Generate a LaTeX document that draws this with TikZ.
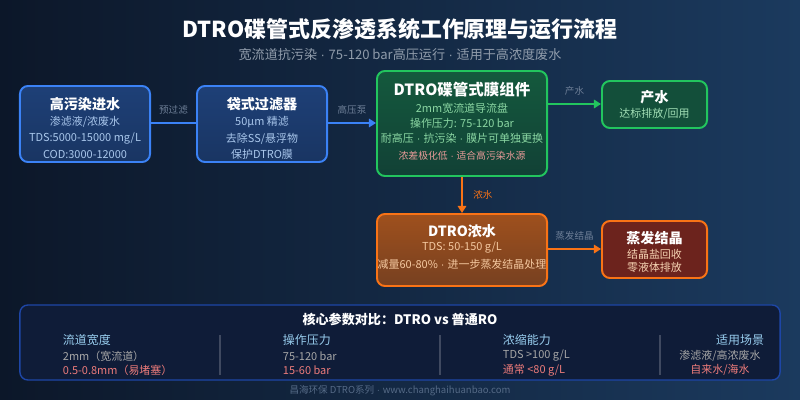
\documentclass[tikz,border=0pt]{standalone}
\usepackage{fontspec}
\setmainfont{Noto Sans CJK SC}
\newfontfamily\latinfont{Liberation Sans}
\newcommand\mdot{{\latinfont\ ·\ }}
\usetikzlibrary{arrows.meta,positioning,calc}

\definecolor{bgA}{HTML}{0C1729}
\definecolor{bgB}{HTML}{1B3A5E}
\definecolor{blueB}{HTML}{3B82F6}
\definecolor{blueT}{HTML}{A9C7EC}
\definecolor{greenB}{HTML}{22C55E}
\definecolor{greenT}{HTML}{8AD6A2}
\definecolor{orangeB}{HTML}{F97316}
\definecolor{orangeT}{HTML}{F4C8A0}
\definecolor{pinkT}{HTML}{E79A98}
\definecolor{grayT}{HTML}{6E7F97}
\definecolor{panelF}{HTML}{0F1C38}
\definecolor{panelB}{HTML}{1E46A6}

\tikzset{
  box/.style={draw,line width=1.4pt,rounded corners=0.2cm,inner sep=0pt},
  ttl/.style={text=white,font=\bfseries\fontsize{10}{12}\selectfont},
  txt/.style={font=\fontsize{7.8}{9}\selectfont},
  lbl/.style={text=grayT,font=\fontsize{6.8}{8}\selectfont},
  flow/.style={line width=1.4pt,-{Triangle[length=5pt,width=6pt]}}
}

\begin{document}
\begin{tikzpicture}[x=0.025cm,y=-0.025cm]
  % background
  \shade[left color=bgA,right color=bgB] (0,0) rectangle (800,400);
  \useasboundingbox (0,0) rectangle (800,400);

  \node (title) at (400,29) {\textcolor{white}{\bfseries\fontsize{15.6}{18}\selectfont DTRO碟管式反渗透系统工作原理与运行流程}};
  \node (sub) at (400,55) {\textcolor{gray!60!blueT}{\fontsize{9.3}{11}\selectfont 宽流道抗污染\mdot 75-120 bar高压运行\mdot 适用于高浓度废水}};

  % boxes
  \node[box,draw=blueB,top color=blueB!38!bgA,bottom color=blueB!28!bgA,minimum width=3.25cm,minimum height=1.9cm] (feed) at (85,124) {};
  \node[box,draw=blueB,top color=blueB!38!bgA,bottom color=blueB!28!bgA,minimum width=3.25cm,minimum height=1.9cm] (filter) at (262,124) {};
  \node[box,draw=greenB,top color=greenB!38!bgA,bottom color=greenB!24!bgA,minimum width=4.25cm,minimum height=2.625cm] (dtro) at (462,123.5) {};
  \node[box,draw=greenB,fill=greenB!32!bgA,minimum width=2.625cm,minimum height=1.175cm] (prod) at (654.5,104.5) {};
  \node[box,draw=orangeB,top color=orangeB!62!bgA,bottom color=orangeB!45!bgA,minimum width=4.25cm,minimum height=1.8cm] (conc) at (462,250) {};
  \node[box,draw=orangeB,fill=orangeB!45!red!40!bgA,minimum width=2.625cm,minimum height=1.425cm] (evap) at (654.5,249.5) {};

  % box texts
  \node[ttl] (feedT) at (85,104) {高污染进水};
  \node[txt,text=blueT] (feed1) at (85,122) {渗滤液/浓废水};
  \node[txt,text=blueT] (feed2) at (85,139) {TDS:5000-15000 mg/L};
  \node[txt,text=blueT] (feed3) at (85,154) {COD:3000-12000};

  \node[ttl] (filterT) at (262,104) {袋式过滤器};
  \node[txt,text=blueT] (filter1) at (262,122) {50μm 精滤};
  \node[txt,text=blueT] (filter2) at (262,139) {去除SS/悬浮物};
  \node[txt,text=blueT] (filter3) at (262,154) {保护DTRO膜};

  \node[ttl,font=\bfseries\fontsize{11}{13}\selectfont] (dtroT) at (462,90) {DTRO碟管式膜组件};
  \node[txt,text=greenT] (dtro1) at (462,108) {2mm宽流道导流盘};
  \node[txt,text=greenT] (dtro2) at (462,123) {操作压力: 75-120 bar};
  \node[txt,text=greenT] (dtro3) at (462,138) {耐高压\mdot 抗污染\mdot 膜片可单独更换};
  \node[txt,text=pinkT,font=\fontsize{7}{8}\selectfont] (dtro4) at (462,156) {浓差极化低\mdot 适合高污染水源};

  \node[ttl] (prodT) at (654.5,97) {产水};
  \node[txt,text=greenT!80!white] (prod1) at (654.5,114) {达标排放/回用};

  \node[ttl] (concT) at (462,231) {DTRO浓水};
  \node[txt,text=orangeT] (conc1) at (462,248) {TDS: 50-150 g/L};
  \node[txt,text=orangeT] (conc2) at (462,264) {减量60-80\%\mdot 进一步蒸发结晶处理};

  \node[ttl] (evapT) at (654.5,238) {蒸发结晶};
  \node[txt,text=orangeT!80!white] (evap1) at (654.5,254) {结晶盐回收};
  \node[txt,text=orangeT!80!white] (evap2) at (654.5,267) {零液体排放};

  % connectors
  \draw[blueB,line width=1.4pt] (feed.east |- 0,123) -- (filter.west |- 0,123) node[midway,above=2pt,lbl] {预过滤};
  \draw[flow,blueB] (filter.east |- 0,123) -- (dtro.west |- 0,123) node[midway,above=2pt,lbl] {高压泵};
  \draw[flow,greenB] (dtro.east |- 0,104) -- (prod.west |- 0,104) node[midway,above=2pt,lbl] {产水};
  \draw[flow,orangeB] (dtro) -- (conc) node[midway,right=4pt,text=orangeB,font=\fontsize{6.8}{8}\selectfont] {浓水};
  \draw[flow,orangeB] (conc.east |- 0,249) -- (evap.west |- 0,249) node[midway,above=2pt,lbl] {蒸发结晶};

  % comparison panel
  \node[draw=panelB,fill=panelF,line width=1pt,rounded corners=0.2cm,minimum width=19cm,minimum height=1.875cm] (panel) at (400,342.5) {};
  \node[ttl,font=\bfseries\fontsize{9.3}{11}\selectfont] (panelT) at (400,319) {核心参数对比：DTRO vs 普通RO};
  \foreach \x in {220,440,660}
    \draw[white!20!panelF,line width=1pt] (\x,335) -- (\x,375);

  \node[anchor=west,text=blueT!90!cyan,font=\fontsize{8.5}{10}\selectfont] (c1a) at (58,340) {流道宽度};
  \node[anchor=west,text=gray!70!white,txt] (c1b) at (58,356) {2mm（宽流道）};
  \node[anchor=west,text=pinkT!80!red,txt] (c1c) at (58,370) {0.5-0.8mm（易堵塞）};

  \node[anchor=west,text=blueT!90!cyan,font=\fontsize{8.5}{10}\selectfont] (c2a) at (278,340) {操作压力};
  \node[anchor=west,text=gray!70!white,txt] (c2b) at (278,356) {75-120 bar};
  \node[anchor=west,text=pinkT!80!red,txt] (c2c) at (278,370) {15-60 bar};

  \node[anchor=west,text=blueT!90!cyan,font=\fontsize{8.5}{10}\selectfont] (c3a) at (498,340) {浓缩能力};
  \node[anchor=west,text=gray!70!white,txt] (c3b) at (498,356) {TDS >100 g/L};
  \node[anchor=west,text=pinkT!80!red,txt] (c3c) at (498,370) {通常 <80 g/L};

  \node[anchor=east,text=blueT!90!cyan,font=\fontsize{8.5}{10}\selectfont] (c4a) at (769,340) {适用场景};
  \node[text=gray!70!white,txt] (c4b) at (720,356) {渗滤液/高浓废水};
  \node[text=pinkT!80!red,txt] (c4c) at (720,370) {自来水/海水};

  \node[text=grayT!70!bgB,font=\fontsize{6.8}{8}\selectfont] (foot) at (400,391) {昌海环保 DTRO系列\mdot www.changhaihuanbao.com};
\end{tikzpicture}
\end{document}
